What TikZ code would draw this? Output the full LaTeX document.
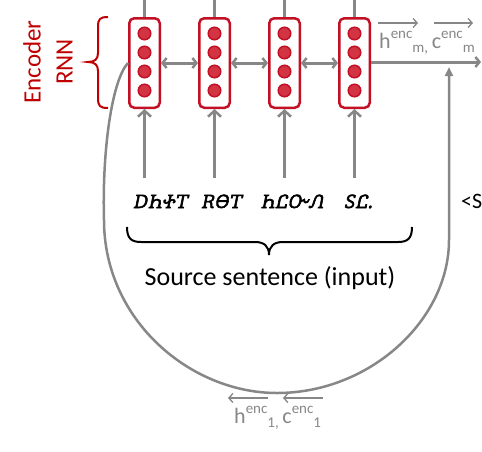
\documentclass[tikz,border=0pt]{standalone}
\usepackage{fontspec}
\setmainfont{Carlito}
\usetikzlibrary{arrows.meta}
\definecolor{encred}{RGB}{192,0,0}
\definecolor{cellred}{RGB}{196,16,36}
\definecolor{dotfill}{RGB}{210,52,68}
\definecolor{lgray}{RGB}{135,135,135}
\newif\ifchrfound
\gdef\chrname{}
\newcommand\trychr[1]{\ifchrfound\else\IfFontExistsTF{#1}{\font\chrprobe="#1" at 10pt\relax\iffontchar\chrprobe"13A0\relax\global\chrfoundtrue\gdef\chrname{#1}\fi}{}\fi}
\trychr{Noto Sans Cherokee}
\trychr{Noto Serif Cherokee}
\trychr{FreeSans}
\trychr{FreeSerif}
\ifchrfound
  \expandafter\newfontfamily\expandafter\chrfont\expandafter{\chrname}[FakeSlant=0.2,FakeBold=3.2]
  \newcommand\wA{ᎠᏂᏐᎢ}
  \newcommand\wB{ᎡᎾᎢ}
  \newcommand\wC{ᏂᏝᏅᏁ}
  \newcommand\wD{ᏚᏝ.}
\else
  \newfontfamily\chrfont{Carlito}[FakeSlant=0.2,FakeBold=2]
  \newcommand\wA{Dh+T}
  \newcommand\wB{RθT}
  \newcommand\wC{hLO\textasciitilde Λ}
  \newcommand\wD{ŜL.}
\fi
\newcommand\hsub[2]{#1\raisebox{10pt}{\fontsize{15}{15}\selectfont enc}\raisebox{-4pt}{\fontsize{15}{15}\selectfont #2}}
\begin{document}
\begin{tikzpicture}[x=1pt,y=-1pt,
  cell/.style={draw=cellred,line width=2.5pt,rounded corners=5pt,fill=white,minimum width=30.5pt,minimum height=89.5pt,inner sep=0pt},
  dot/.style={circle,draw=cellred,line width=1.5pt,fill=dotfill,minimum size=12.5pt,inner sep=0pt},
  gline/.style={draw=lgray,line width=3pt},
  cline/.style={draw=lgray,line width=2.5pt},
  upbarb/.tip={Straight Barb[length=6pt,width=13pt,line width=2.5pt]},
  hbarb/.tip={Straight Barb[length=4pt,width=10pt,line width=2.5pt]},
  thinarr/.style={draw=lgray,line width=1.3pt,-{Straight Barb[length=4pt,width=9pt,line width=1.3pt]}},
  lab/.style={text=lgray,font=\fontsize{22}{22}\selectfont,inner sep=0pt},
  word/.style={font=\chrfont\fontsize{18.5}{18.5}\selectfont,inner sep=0pt,anchor=base}
]
\useasboundingbox (0,0) rectangle (482,451);
\clip (0,0) rectangle (482,451);
\foreach \i/\x in {1/144.5,2/214.5,3/284.5,4/354.5} {
  \node[cell] (c\i) at (\x,63) {};
  \foreach \j/\y in {1/33.5,2/52.5,3/71.5,4/90.5} \node[dot] (d\i\j) at (\x,\y) {};
  \coordinate (top\i) at (\x,-3);
  \coordinate (in\i) at (\x,178);
  \draw[gline] (c\i.north) -- (top\i);
  \draw[gline,-{upbarb}] (in\i) -- (c\i.south);
}
\draw[gline,{hbarb}-{hbarb}] (c1.east) -- (c2.west);
\draw[gline,{hbarb}-{hbarb}] (c2.east) -- (c3.west);
\draw[gline,{hbarb}-{hbarb}] (c3.east) -- (c4.west);
\coordinate (outend) at (481,62);
\draw[gline,-{hbarb}] (c4.east |- outend) -- (outend);
% feedback curve
\coordinate (fbA) at (104,220);
\coordinate (fbB) at (277,393);
\coordinate (fbC) at (449,240);
\coordinate (fbEnd) at (449,67);
\draw[cline,-{Triangle[length=9pt,width=8pt]}] (c1.west) .. controls (112,80) and (102,150) .. (fbA) .. controls (104,320) and (190,393) .. (fbB) .. controls (370,393) and (449,320) .. (fbC) -- (fbEnd);
% red brace
\draw[encred,line width=2pt] (108,17) .. controls (100,17) and (98,19) .. (98,27) -- (98,53) .. controls (98,59) and (95,62) .. (88,62) .. controls (95,62) and (98,65) .. (98,71) -- (98,98) .. controls (98,106) and (100,108) .. (108,108);
\node[text=encred,rotate=90,align=center,font=\fontsize{25}{32}\selectfont,inner sep=0pt] (encl) at (48,62) {Encoder\\RNN};
% words
\node[word] (w1) at (160,208) {\wA};
\node[word] (w2) at (221,208) {\wB};
\node[word] (w3) at (292,208) {\wC};
\node[word] (w4) at (358,208) {\wD};
% bottom brace
\draw[black,line width=2pt] (127,227) .. controls (127,238) and (131,242) .. (141,242) -- (255,242) .. controls (264,242) and (269,246) .. (269,255) .. controls (269,246) and (274,242) .. (283,242) -- (398,242) .. controls (408,242) and (412,238) .. (412,227);
\node[anchor=base,font=\fontsize{26}{26}\selectfont,inner sep=0pt] (src) at (270,285) {Source sentence (input)};
% labels
\node[lab,anchor=base west] (hm) at (379,48) {\hsub{h}{m,}\,\hsub{c}{m}};
\coordinate (ta1s) at (378,23); \coordinate (ta1e) at (418,23);
\coordinate (ta2s) at (434,23); \coordinate (ta2e) at (473,23);
\draw[thinarr] (ta1s) -- (ta1e);
\draw[thinarr] (ta2s) -- (ta2e);
\node[lab,anchor=base west] (h1) at (234,423) {\hsub{h}{1,}\,\hsub{c}{1}};
\coordinate (ba1s) at (268,398); \coordinate (ba1e) at (228,398);
\coordinate (ba2s) at (323,398); \coordinate (ba2e) at (283,398);
\draw[thinarr] (ba1s) -- (ba1e);
\draw[thinarr] (ba2s) -- (ba2e);
\node[anchor=base west,font=\fontsize{22}{22}\selectfont,inner sep=0pt] (sos) at (461,208) {<S};
\end{tikzpicture}
\end{document}
